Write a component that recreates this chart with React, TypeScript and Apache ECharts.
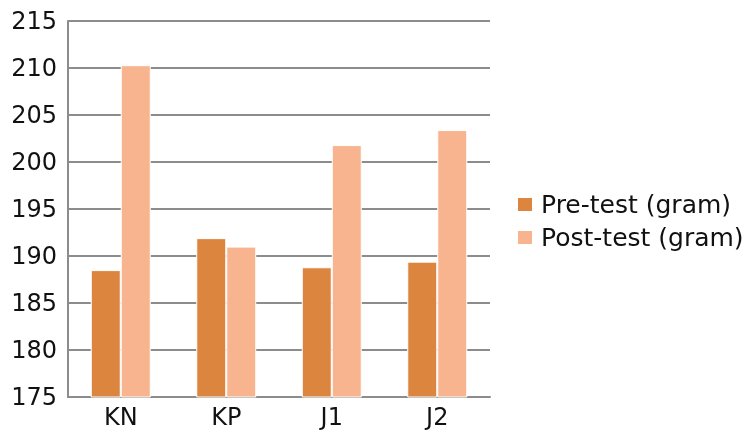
import React, { useEffect, useRef } from "react";
import * as echarts from "echarts";

const categories = ["KN", "KP", "J1", "J2"];
const preTest = [188.5, 191.9, 188.8, 189.4];
const postTest = [210.3, 191.0, 201.8, 203.4];
const seriesNames = ["Pre-test (gram)", "Post-test (gram)"];

export default function App() {
  const ref = useRef<HTMLDivElement>(null);
  useEffect(() => {
    const chart = echarts.init(ref.current!, null, { renderer: "svg" });
    const font = "DejaVu Sans";
    chart.setOption({
      animation: false,
      textStyle: { fontFamily: font },
      legend: {
        orient: "vertical",
        left: 511,
        top: 187,
        itemWidth: 16,
        itemHeight: 15,
        itemGap: 8,
        icon: "rect",
        textStyle: { fontSize: 25, color: "#111", fontFamily: font, padding: [0, 0, 0, 3] },
        data: seriesNames,
      },
      grid: { left: 68, right: 262, top: 21, bottom: 35, containLabel: false },
      xAxis: {
        type: "category",
        data: categories,
        axisLine: { lineStyle: { color: "#8c8c8c", width: 2 } },
        axisTick: { show: false },
        axisLabel: { fontSize: 24, color: "#111", margin: 8, fontFamily: font },
      },
      yAxis: {
        type: "value",
        min: 175,
        max: 215,
        interval: 5,
        axisLine: { show: true, lineStyle: { color: "#8c8c8c", width: 2 } },
        axisTick: { show: false },
        splitLine: { lineStyle: { color: "#8c8c8c", width: 2 } },
        axisLabel: { fontSize: 24, color: "#111", margin: 11, fontFamily: font },
      },
      series: [
        {
          name: seriesNames[0],
          type: "bar",
          data: preTest,
          barWidth: 30,
          barGap: "0%",
          itemStyle: { color: "#dc853f", borderColor: "#fff", borderWidth: 1 },
        },
        {
          name: seriesNames[1],
          type: "bar",
          data: postTest,
          barWidth: 30,
          barGap: "0%",
          itemStyle: { color: "#f8b48e", borderColor: "#fff", borderWidth: 1 },
        },
      ],
    });
    return () => chart.dispose();
  }, []);
  return (
    <div
      ref={ref}
      style={{ position: "fixed", left: 0, top: 0, width: 752, height: 432 }}
    />
  );
}
